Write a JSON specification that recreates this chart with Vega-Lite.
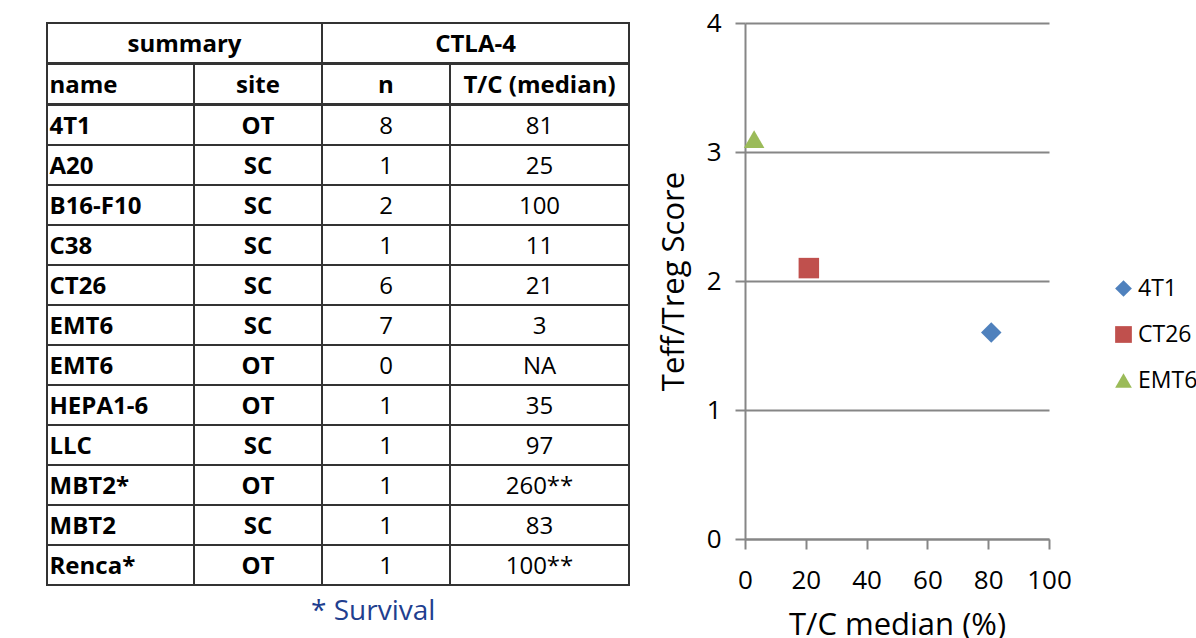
{
  "$schema": "https://vega.github.io/schema/vega-lite/v6.json",
  "padding": {"left": 46, "top": 10, "right": 0, "bottom": 0},
  "autosize": {"type": "pad"},
  "background": "white",
  "config": {"view": {"stroke": null}, "font": "Open Sans"},
  "datasets": {
    "table": [
      {"id": 1, "name": "4T1", "site": "OT", "n": "8", "tc": "81"},
      {"id": 2, "name": "A20", "site": "SC", "n": "1", "tc": "25"},
      {"id": 3, "name": "B16-F10", "site": "SC", "n": "2", "tc": "100"},
      {"id": 4, "name": "C38", "site": "SC", "n": "1", "tc": "11"},
      {"id": 5, "name": "CT26", "site": "SC", "n": "6", "tc": "21"},
      {"id": 6, "name": "EMT6", "site": "SC", "n": "7", "tc": "3"},
      {"id": 7, "name": "EMT6", "site": "OT", "n": "0", "tc": "NA"},
      {"id": 8, "name": "HEPA1-6", "site": "OT", "n": "1", "tc": "35"},
      {"id": 9, "name": "LLC", "site": "SC", "n": "1", "tc": "97"},
      {"id": 10, "name": "MBT2*", "site": "OT", "n": "1", "tc": "260**"},
      {"id": 11, "name": "MBT2", "site": "SC", "n": "1", "tc": "83"},
      {"id": 12, "name": "Renca*", "site": "OT", "n": "1", "tc": "100**"}
    ],
    "points": [
      {"name": "4T1", "tcm": 81, "score": 1.6},
      {"name": "CT26", "tcm": 21, "score": 2.1},
      {"name": "EMT6", "tcm": 3, "score": 3.1}
    ]
  },
  "spacing": 28,
  "hconcat": [
    {
      "spacing": -2,
      "bounds": "full",
      "title": {"text": "* Survival", "orient": "bottom", "anchor": "start", "dx": 265, "offset": 12, "fontSize": 28, "fontWeight": "normal", "color": "#1F3F8F", "font": "Open Sans"},
      "vconcat": [
        {
          "spacing": 0,
          "bounds": "flush",
          "hconcat": [
            {
              "width": 275, "height": 40,
              "data": {"values": [{"label": "summary"}]},
              "layer": [
                {"mark": {"type": "rect", "filled": false, "stroke": "#333", "strokeWidth": 2}, "encoding": {}},
                {"mark": {"type": "text", "fontSize": 24, "fontWeight": "bold", "color": "#000", "dy": 2}, "encoding": {"text": {"field": "label"}}}
              ]
            },
            {
              "width": 307, "height": 40,
              "data": {"values": [{"label": "CTLA-4"}]},
              "layer": [
                {"mark": {"type": "rect", "filled": false, "stroke": "#333", "strokeWidth": 2}, "encoding": {}},
                {"mark": {"type": "text", "fontSize": 24, "fontWeight": "bold", "color": "#000", "dy": 2}, "encoding": {"text": {"field": "label"}}}
              ]
            }
          ]
        },
        {
          "spacing": 0,
          "bounds": "flush",
          "hconcat": [
            {
              "width": 147, "height": 40,
              "data": {"values": [{"label": "name"}]},
              "layer": [
                {"mark": {"type": "rect", "filled": false, "stroke": "#333", "strokeWidth": 2}, "encoding": {}},
                {"mark": {"type": "text", "fontSize": 24, "fontWeight": "bold", "color": "#000", "align": "left", "dx": -71, "dy": 2}, "encoding": {"text": {"field": "label"}}}
              ]
            },
            {
              "width": 128, "height": 40,
              "data": {"values": [{"label": "site"}]},
              "layer": [
                {"mark": {"type": "rect", "filled": false, "stroke": "#333", "strokeWidth": 2}, "encoding": {}},
                {"mark": {"type": "text", "fontSize": 24, "fontWeight": "bold", "color": "#000", "dy": 2}, "encoding": {"text": {"field": "label"}}}
              ]
            },
            {
              "width": 128, "height": 40,
              "data": {"values": [{"label": "n"}]},
              "layer": [
                {"mark": {"type": "rect", "filled": false, "stroke": "#333", "strokeWidth": 2}, "encoding": {}},
                {"mark": {"type": "text", "fontSize": 24, "fontWeight": "bold", "color": "#000", "dy": 2}, "encoding": {"text": {"field": "label"}}}
              ]
            },
            {
              "width": 179, "height": 40,
              "data": {"values": [{"label": "T/C (median)"}]},
              "layer": [
                {"mark": {"type": "rect", "filled": false, "stroke": "#333", "strokeWidth": 2}, "encoding": {}},
                {"mark": {"type": "text", "fontSize": 24, "fontWeight": "bold", "color": "#000", "dy": 2}, "encoding": {"text": {"field": "label"}}}
              ]
            }
          ]
        },
        {
          "spacing": 0,
          "bounds": "flush",
          "hconcat": [
            {
              "width": 147, "height": 480,
              "data": {"name": "table"},
              "encoding": {"y": {"field": "id", "type": "ordinal", "axis": null, "scale": {"paddingInner": 0, "paddingOuter": 0}}},
              "layer": [
                {"mark": {"type": "rect", "filled": false, "stroke": "#333", "strokeWidth": 2}},
                {"mark": {"type": "text", "fontSize": 24, "fontWeight": "bold", "color": "#000", "align": "left", "dx": -71, "dy": 2}, "encoding": {"text": {"field": "name"}}}
              ]
            },
            {
              "width": 128, "height": 480,
              "data": {"name": "table"},
              "encoding": {"y": {"field": "id", "type": "ordinal", "axis": null, "scale": {"paddingInner": 0, "paddingOuter": 0}}},
              "layer": [
                {"mark": {"type": "rect", "filled": false, "stroke": "#333", "strokeWidth": 2}},
                {"mark": {"type": "text", "fontSize": 24, "fontWeight": "bold", "color": "#000", "dy": 2}, "encoding": {"text": {"field": "site"}}}
              ]
            },
            {
              "width": 128, "height": 480,
              "data": {"name": "table"},
              "encoding": {"y": {"field": "id", "type": "ordinal", "axis": null, "scale": {"paddingInner": 0, "paddingOuter": 0}}},
              "layer": [
                {"mark": {"type": "rect", "filled": false, "stroke": "#333", "strokeWidth": 2}},
                {"mark": {"type": "text", "fontSize": 24, "fontWeight": "normal", "color": "#000", "dy": 2}, "encoding": {"text": {"field": "n"}}}
              ]
            },
            {
              "width": 179, "height": 480,
              "data": {"name": "table"},
              "encoding": {"y": {"field": "id", "type": "ordinal", "axis": null, "scale": {"paddingInner": 0, "paddingOuter": 0}}},
              "layer": [
                {"mark": {"type": "rect", "filled": false, "stroke": "#333", "strokeWidth": 2}},
                {"mark": {"type": "text", "fontSize": 24, "fontWeight": "normal", "color": "#000", "dy": 2}, "encoding": {"text": {"field": "tc"}}}
              ]
            }
          ]
        }
      ]
    },
    {
      "width": 304,
      "height": 516,
      "data": {"name": "points"},
      "mark": {"type": "point", "filled": true, "opacity": 1, "size": 420},
      "encoding": {
        "x": {
          "field": "tcm", "type": "quantitative",
          "scale": {"domain": [0, 100], "nice": false},
          "axis": {
            "values": [0, 20, 40, 60, 80, 100], "title": "T/C median (%)", "grid": false, "labelFlush": false,
            "domainColor": "#868686", "domainWidth": 2, "tickColor": "#868686", "tickWidth": 2, "tickSize": 10,
            "labelFontSize": 26, "labelColor": "#000", "labelPadding": 18, "labelFont": "Open Sans",
            "titleFontSize": 31, "titleFontWeight": "normal", "titleColor": "#000", "titlePadding": 17, "titleFont": "Open Sans"
          }
        },
        "y": {
          "field": "score", "type": "quantitative",
          "scale": {"domain": [0, 4], "nice": false},
          "axis": {
            "values": [0, 1, 2, 3, 4], "title": "Teff/Treg Score", "grid": true, "gridColor": "#868686", "gridWidth": 2, "labelFlush": false,
            "domainColor": "#868686", "domainWidth": 2, "tickColor": "#868686", "tickWidth": 2, "tickSize": 10,
            "labelFontSize": 26, "labelColor": "#000", "labelPadding": 14, "labelFont": "Open Sans",
            "titleFontSize": 31, "titleFontWeight": "normal", "titleColor": "#000", "titlePadding": 16, "titleFont": "Open Sans"
          }
        },
        "color": {
          "field": "name", "type": "nominal",
          "scale": {"domain": ["4T1", "CT26", "EMT6"], "range": ["#4F81BD", "#C0504D", "#9BBB59"]},
          "legend": {"orient": "none", "legendX": 1065, "legendY": 254, "title": null, "labelFontSize": 23, "labelColor": "#000", "symbolSize": 280, "rowPadding": 22, "labelOffset": 3, "symbolOpacity": 1}
        },
        "shape": {
          "field": "name", "type": "nominal",
          "scale": {"domain": ["4T1", "CT26", "EMT6"], "range": ["diamond", "square", "triangle-up"]},
          "legend": {"orient": "none", "legendX": 1065, "legendY": 254, "title": null, "labelFontSize": 23, "labelColor": "#000", "symbolSize": 280, "rowPadding": 22, "labelOffset": 3, "symbolOpacity": 1}
        }
      }
    }
  ]
}
